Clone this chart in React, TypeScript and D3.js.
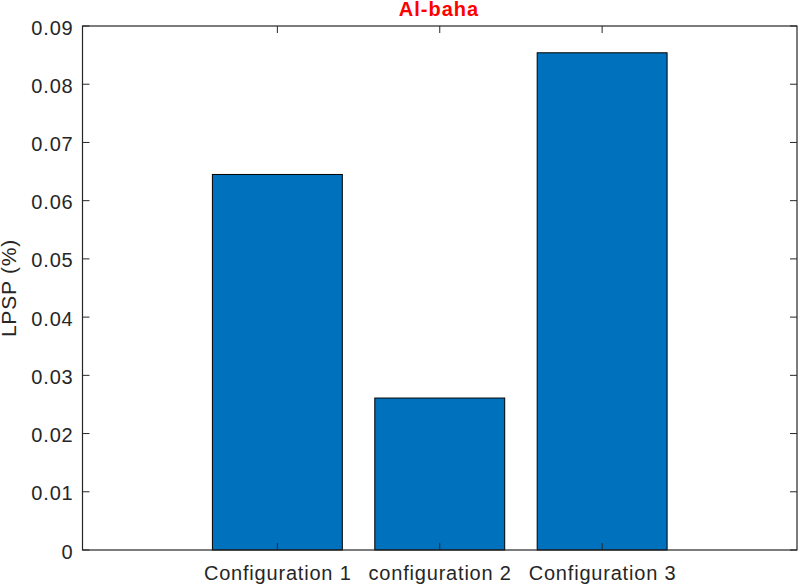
import React from "react";
import * as d3 from "d3";

const categories = ["Configuration 1", "configuration 2", "Configuration 3"];
const values = [0.0645, 0.0261, 0.0854];
const yTicks = [0, 0.01, 0.02, 0.03, 0.04, 0.05, 0.06, 0.07, 0.08, 0.09];
const title = "Al-baha";
const yLabel = "LPSP (%)";

const W = 798, H = 584;
const L = 82.5, R = 797, T = 26, B = 550;

export default function App() {
  const x = d3.scaleLinear().domain([-0.2, 4.2]).range([L, R]);
  const y = d3.scaleLinear().domain([0, 0.09]).range([B, T]);
  const step = x(1) - x(0);
  const bw = step * 0.8;
  const font = "'Liberation Sans', Arial, Helvetica, sans-serif";
  const axisColor = "#262626";
  const tl = 7;
  const ls = 0.8;
  return (
    <svg width={W} height={H} style={{ position: "absolute", left: 0, top: 0, background: "#fff" }}>
      {values.map((v, i) => (
        <rect key={i} x={x(i + 1) - bw / 2} y={y(v)} width={bw} height={y(0) - y(v)}
          fill="#0072BD" stroke="#000" strokeWidth={1} />
      ))}
      <rect x={L} y={T} width={R - L} height={B - T} fill="none" stroke={axisColor} strokeWidth={1.2} />
      {yTicks.map((t, i) => (
        <g key={i}>
          <line x1={L} x2={L + tl} y1={y(t)} y2={y(t)} stroke={axisColor} strokeWidth={1} />
          <line x1={R} x2={R - tl} y1={y(t)} y2={y(t)} stroke={axisColor} strokeWidth={1} />
          <text x={L - 9} y={y(t) + 8.5} textAnchor="end" fontFamily={font} fontSize={20} letterSpacing={ls} fill="#262626">{t === 0 ? "0" : t.toFixed(2)}</text>
        </g>
      ))}
      {categories.map((c, i) => (
        <g key={i}>
          <line x1={x(i + 1)} x2={x(i + 1)} y1={B} y2={B - tl} stroke={axisColor} strokeWidth={1} />
          <line x1={x(i + 1)} x2={x(i + 1)} y1={T} y2={T + tl} stroke={axisColor} strokeWidth={1} />
          <text x={x(i + 1) + ls / 2} y={580} textAnchor="middle" fontFamily={font} fontSize={20} letterSpacing={ls} fill="#262626">{c}</text>
        </g>
      ))}
      <text x={439} y={15.7} textAnchor="middle" fontFamily={font} fontSize={20} fontWeight="bold" letterSpacing={1} fill="#FF0000">{title}</text>
      <text transform={`translate(16,${(T + B) / 2}) rotate(-90)`} textAnchor="middle" fontFamily={font} fontSize={21} letterSpacing={ls} fill="#262626">{yLabel}</text>
    </svg>
  );
}
